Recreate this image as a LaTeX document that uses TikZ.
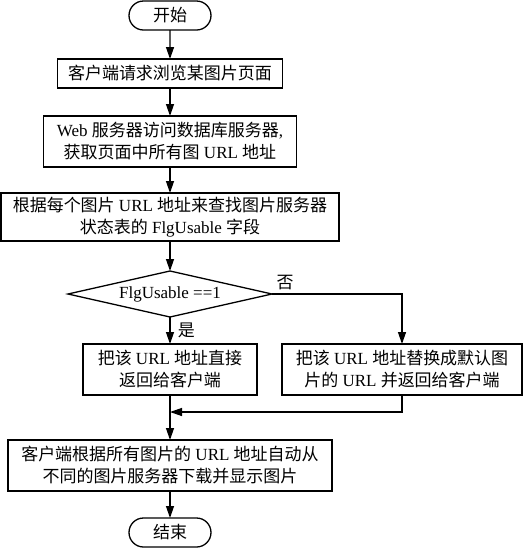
\documentclass[tikz,border=0pt]{standalone}
\usepackage{fontspec}
\setmainfont{Noto Sans CJK SC}
\newfontfamily\latinfont{Liberation Serif}
\newcommand{\lat}[1]{{\latinfont #1}}
\usetikzlibrary{ % tikz packages
    positioning,shapes.geometric,shapes.misc,
    arrows.meta
}
\tikzset{
    every node/.style={font=\fontsize{17pt}{22pt}\selectfont},
    terminal/.style={rounded rectangle,draw,line width=1.3pt,outer sep=0pt,
        minimum width=82pt,minimum height=29pt,inner sep=0pt},
    procbox/.style={rectangle,draw,line width=1.3pt,outer sep=0pt,align=center,
        minimum height=51pt,inner sep=0pt},
    decision/.style={diamond,draw,line width=1.3pt,outer sep=0pt,aspect=4.4,
        minimum width=204pt,minimum height=46pt,inner sep=0pt},
    flow/.style={line width=1.3pt,-{Triangle[length=12pt,width=8pt]}}
}

\begin{document}
\begin{tikzpicture}
        \useasboundingbox (0,0) rectangle (529pt,-550pt);

        \node[terminal] (start) at (170pt,-15.5pt) {开始};
        \node[procbox,minimum width=225pt,minimum height=29pt] (req) [below=29pt of start] {客户端请求浏览某图片页面};
        \node[procbox,minimum width=253pt] (fetch) [below=28pt of req]
            {\lat{Web }服务器访问数据库服务器\lat{,}\\获取页面中所有图\lat{ URL }地址};
        \node[procbox,minimum width=338pt,minimum height=48pt] (lookup) [below=26pt of fetch]
            {根据每个图片\lat{ URL }地址来查找图片服务器\\状态表的\lat{ FlgUsable }字段};
        \node[decision] (check) [below=30pt of lookup] {\lat{FlgUsable ==1}};
        \node[procbox,minimum width=174pt] (direct) [below=27pt of check]
            {把该\lat{ URL }地址直接\\返回给客户端};
        \node[procbox,minimum width=240pt] (replace) [right=25pt of direct]
            {把该\lat{ URL }地址替换成默认图\\片的\lat{ URL }并返回给客户端};
        \coordinate[below=17pt of direct] (join);
        \node[procbox,minimum width=324pt] (load) [below=45pt of direct]
            {客户端根据所有图片的\lat{ URL }地址自动从\\不同的图片服务器下载并显示图片};
        \node[terminal] (stop) [below=27pt of load] {结束};

        \path[flow]
            (start) edge (req)
            (req) edge (fetch)
            (fetch) edge (lookup)
            (lookup) edge (check)
            (check) edge node[right,xshift=4pt] {是} (direct)
            (direct) edge (load)
            (load) edge (stop);
        \draw[flow] (check.east) -| node[pos=0.05,above] {否} (replace.north);
        \draw[flow] (replace.south) |- (join);
    \end{tikzpicture}
\end{document}
